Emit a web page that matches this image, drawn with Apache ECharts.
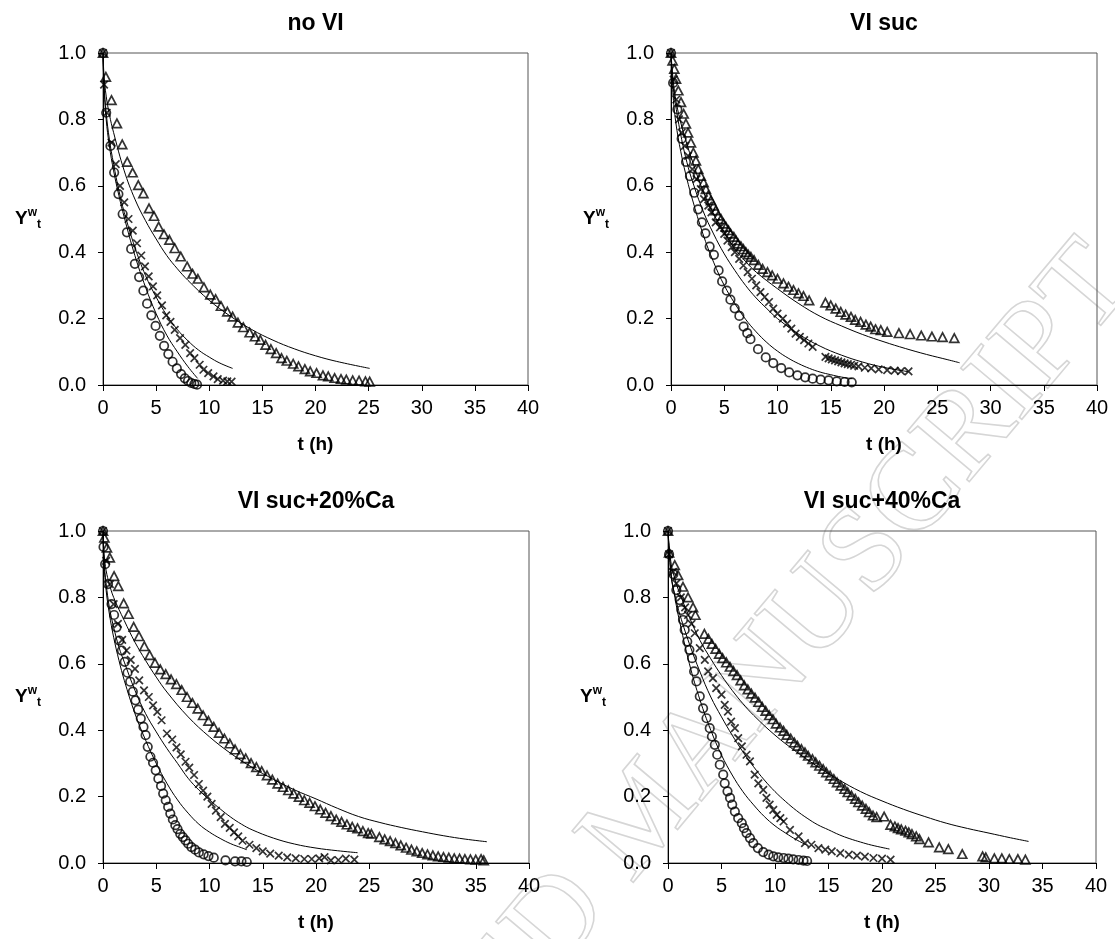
<!DOCTYPE html>
<html><head><meta charset="utf-8">
<script src="https://cdn.jsdelivr.net/npm/echarts@6/dist/echarts.min.js"></script>
<style>html,body{margin:0;padding:0;background:#fff}#c{width:1115px;height:939px}</style>
</head><body><div id="c"></div>
<script>
// ---------- text / ticks ----------
const panelTitles = ['no VI', 'VI suc', 'VI suc+20%Ca', 'VI suc+40%Ca'];
const tTicks = [0, 5, 10, 15, 20, 25, 30, 35, 40];
const yTicks = [0.0, 0.2, 0.4, 0.6, 0.8, 1.0];
const xName = 't (h)';
const watermarkText = 'ACCEPTED MANUSCRIPT';

// ---------- panel 1 : no VI ----------
const noVI_circle = [[0,1.0],[0.3,0.82],[0.7,0.72],[1.05,0.64],[1.45,0.575],[1.85,0.515],[2.25,0.46],[2.65,0.41],[3.0,0.365],[3.4,0.325],[3.8,0.284],[4.15,0.245],[4.55,0.21],[4.95,0.178],[5.35,0.148],[5.75,0.118],[6.15,0.093],[6.55,0.07],[6.95,0.05],[7.35,0.033],[7.7,0.02],[8.0,0.012],[8.3,0.006],[8.6,0.003],[8.85,0.001]];
const noVI_cross = [[0,1.0],[0.1,0.905],[0.35,0.82],[0.8,0.73],[1.2,0.665],[1.6,0.60],[2.0,0.55],[2.4,0.50],[2.8,0.465],[3.2,0.427],[3.6,0.39],[3.95,0.357],[4.3,0.327],[4.7,0.297],[5.1,0.27],[5.55,0.24],[5.95,0.21],[6.35,0.19],[6.75,0.166],[7.25,0.141],[7.75,0.121],[8.2,0.096],[8.6,0.081],[9.1,0.061],[9.45,0.046],[9.9,0.036],[10.4,0.026],[10.8,0.018],[11.3,0.013],[11.7,0.011],[12.1,0.01]];
const noVI_tri = [[0,1.0],[0.27,0.928],[0.8,0.858],[1.31,0.788],[1.81,0.725],[2.28,0.672],[2.79,0.64],[3.32,0.602],[3.8,0.577],[4.33,0.532],[4.8,0.509],[5.24,0.477],[5.74,0.454],[6.25,0.437],[6.75,0.412],[7.32,0.387],[7.92,0.357],[8.43,0.335],[8.93,0.32],[9.5,0.294],[10.1,0.272],[10.6,0.259],[11.1,0.238],[11.7,0.221],[12.2,0.206],[12.7,0.188],[13.2,0.174],[13.8,0.158],[14.3,0.146],[14.8,0.136],[15.3,0.121],[15.8,0.108],[16.3,0.096],[16.8,0.081],[17.3,0.073],[17.9,0.064],[18.4,0.056],[19.0,0.048],[19.5,0.041],[20.1,0.036],[20.7,0.029],[21.2,0.026],[21.8,0.021],[22.4,0.018],[22.9,0.016],[23.5,0.014],[24.1,0.013],[24.7,0.011],[25.1,0.01]];
const noVI_circle_fit = [[0,1],[0.1,0.9],[0.3,0.8],[0.6,0.72],[1,0.645],[1.5,0.57],[2,0.505],[3,0.39],[4,0.295],[5,0.215],[6,0.15],[7,0.1],[8,0.055],[8.9,0.02]];
const noVI_cross_fit = [[0,1],[0.1,0.9],[0.3,0.82],[0.6,0.74],[1,0.665],[1.5,0.585],[2,0.52],[3,0.415],[4,0.33],[5,0.265],[6,0.21],[7,0.167],[8,0.133],[9,0.105],[10,0.084],[11,0.066],[12.2,0.05]];
const noVI_tri_fit = [[0,1],[0.1,0.93],[0.3,0.87],[0.6,0.815],[1,0.76],[2,0.645],[3,0.56],[4,0.495],[5,0.44],[6,0.39],[7,0.35],[8,0.315],[10,0.255],[12,0.207],[14,0.167],[16,0.135],[18,0.109],[20,0.088],[22,0.071],[25.1,0.05]];

// ---------- panel 2 : VI suc ----------
const suc_circle = [[0,1.0],[0.2,0.91],[0.6,0.83],[1.0,0.742],[1.41,0.672],[1.78,0.629],[2.18,0.579],[2.55,0.529],[2.9,0.49],[3.23,0.457],[3.63,0.417],[4.03,0.392],[4.47,0.345],[4.8,0.312],[5.24,0.284],[5.58,0.257],[5.98,0.231],[6.42,0.208],[6.82,0.176],[7.16,0.156],[7.46,0.138],[8.17,0.108],[8.9,0.083],[9.6,0.066],[10.35,0.051],[11.1,0.038],[11.87,0.029],[12.6,0.023],[13.3,0.019],[14.05,0.016],[14.8,0.014],[15.56,0.011],[16.3,0.009],[16.97,0.008]];
const suc_cross = [[0,1.0],[0.25,0.92],[0.5,0.86],[0.75,0.80],[1.0,0.76],[1.3,0.72],[1.6,0.69],[2.0,0.65],[2.4,0.62],[2.8,0.59],[3.1,0.56],[3.5,0.54],[3.8,0.52],[4.2,0.49],[4.6,0.475],[5.0,0.455],[5.3,0.435],[5.7,0.415],[6.0,0.40],[6.4,0.38],[6.8,0.36],[7.2,0.34],[7.6,0.32],[8.0,0.30],[8.4,0.28],[8.8,0.265],[9.2,0.25],[9.6,0.23],[10.0,0.215],[10.5,0.20],[10.9,0.185],[11.3,0.17],[11.7,0.155],[12.1,0.145],[12.5,0.135],[12.9,0.125],[13.3,0.115],[14.5,0.085],[14.8,0.08],[15.1,0.077],[15.4,0.074],[15.7,0.071],[16.0,0.068],[16.3,0.065],[16.6,0.063],[16.9,0.061],[17.2,0.058],[17.6,0.056],[18.2,0.052],[18.8,0.05],[19.5,0.047],[20.3,0.045],[21.0,0.043],[21.6,0.042],[22.3,0.041]];
const suc_tri = [[0,1],[0.15,0.977],[0.31,0.952],[0.47,0.922],[0.69,0.887],[0.94,0.852],[1.19,0.817],[1.4,0.787],[1.6,0.76],[1.875,0.73],[2.1,0.70],[2.34,0.676],[2.56,0.65],[2.8,0.63],[3.06,0.61],[3.28,0.59],[3.5,0.571],[3.75,0.556],[4.0,0.54],[4.2,0.526],[4.44,0.51],[4.7,0.50],[4.94,0.486],[5.16,0.476],[5.4,0.466],[5.6,0.456],[5.9,0.446],[6.1,0.436],[6.3,0.426],[6.56,0.418],[6.8,0.409],[7.03,0.40],[7.25,0.393],[7.5,0.386],[7.8,0.376],[8.2,0.362],[8.6,0.35],[9.06,0.34],[9.5,0.33],[10.0,0.32],[10.56,0.306],[11.03,0.296],[11.5,0.286],[11.97,0.276],[12.44,0.268],[12.97,0.255],[14.5,0.248],[15.0,0.24],[15.47,0.23],[15.94,0.22],[16.4,0.212],[16.9,0.205],[17.3,0.196],[17.8,0.19],[18.3,0.182],[18.75,0.176],[19.2,0.168],[19.7,0.165],[20.3,0.16],[21.4,0.156],[22.45,0.153],[23.5,0.149],[24.5,0.146],[25.5,0.144],[26.6,0.141]];
const suc_circle_fit = [[0,1],[0.2,0.87],[0.5,0.78],[1,0.69],[1.5,0.62],[2,0.56],[3,0.455],[4,0.37],[5,0.3],[6,0.245],[7,0.198],[8,0.16],[9,0.128],[10,0.102],[11,0.081],[12,0.064],[13,0.05],[14,0.039],[15,0.031],[16,0.024],[17,0.019]];
const suc_cross_fit = [[0,1],[0.2,0.9],[0.5,0.83],[1,0.74],[1.5,0.67],[2,0.615],[3,0.525],[4,0.455],[5,0.395],[6,0.345],[7,0.3],[8,0.262],[9,0.23],[10,0.2],[12,0.153],[14,0.117],[16,0.09],[18,0.069],[20,0.053],[22.3,0.04]];
const suc_tri_fit = [[0,1],[0.2,0.92],[0.5,0.85],[1,0.78],[1.5,0.725],[2,0.675],[3,0.585],[4,0.515],[5,0.46],[6,0.41],[7,0.372],[8,0.34],[10,0.29],[12,0.245],[14,0.207],[16,0.178],[18,0.152],[20,0.13],[22,0.11],[24,0.092],[26,0.076],[27.1,0.067]];

// ---------- panel 3 : VI suc+20%Ca ----------
const ca20_circle = [[0,1],[0.05,0.952],[0.2,0.9],[0.47,0.84],[0.8,0.78],[1.04,0.747],[1.27,0.71],[1.54,0.67],[1.77,0.64],[2.04,0.606],[2.3,0.573],[2.55,0.546],[2.8,0.516],[3.05,0.49],[3.3,0.462],[3.55,0.435],[3.8,0.41],[4.0,0.385],[4.2,0.35],[4.45,0.32],[4.7,0.302],[4.95,0.279],[5.2,0.254],[5.45,0.232],[5.65,0.209],[5.89,0.189],[6.12,0.169],[6.32,0.149],[6.56,0.131],[6.79,0.114],[7.0,0.102],[7.25,0.088],[7.5,0.078],[7.75,0.068],[8.0,0.058],[8.3,0.048],[8.65,0.04],[9.0,0.032],[9.45,0.026],[9.9,0.021],[10.4,0.016],[11.5,0.008],[12.4,0.005],[13.0,0.005],[13.5,0.003]];
const ca20_cross = [[0,1],[0.3,0.91],[0.65,0.84],[1.0,0.78],[1.4,0.72],[1.8,0.672],[2.2,0.64],[2.6,0.612],[3.0,0.585],[3.4,0.55],[3.85,0.52],[4.3,0.5],[4.7,0.475],[5.1,0.455],[5.5,0.43],[6.0,0.39],[6.5,0.372],[6.9,0.348],[7.3,0.327],[7.75,0.305],[8.1,0.287],[8.55,0.265],[9.0,0.238],[9.4,0.218],[9.8,0.2],[10.2,0.178],[10.6,0.158],[11.05,0.138],[11.45,0.118],[11.9,0.106],[12.3,0.092],[12.7,0.08],[13.1,0.067],[13.75,0.055],[14.4,0.045],[15.0,0.035],[15.7,0.028],[16.5,0.022],[17.3,0.017],[18.1,0.014],[18.9,0.012],[19.6,0.012],[20.3,0.014],[20.8,0.018],[21.4,0.008],[22.1,0.009],[22.8,0.013],[23.6,0.01]];
const ca20_tri = [[0,1],[0.13,0.98],[0.37,0.95],[0.64,0.92],[1.04,0.864],[1.44,0.834],[1.94,0.782],[2.4,0.75],[2.88,0.711],[3.38,0.683],[3.88,0.653],[4.38,0.626],[4.88,0.603],[5.38,0.583],[5.89,0.569],[6.39,0.553],[6.89,0.539],[7.39,0.521],[7.89,0.5],[8.39,0.482],[8.9,0.465],[9.4,0.445],[9.9,0.428],[10.4,0.41],[10.9,0.392],[11.4,0.375],[11.9,0.36],[12.4,0.342],[12.9,0.328],[13.4,0.315],[13.9,0.301],[14.4,0.289],[14.9,0.277],[15.4,0.264],[15.9,0.251],[16.4,0.239],[16.9,0.229],[17.4,0.219],[17.9,0.209],[18.4,0.199],[18.9,0.189],[19.4,0.181],[19.9,0.171],[20.4,0.161],[20.9,0.151],[21.4,0.141],[21.9,0.131],[22.4,0.124],[22.9,0.116],[23.4,0.109],[23.9,0.104],[24.4,0.096],[24.9,0.09],[25.2,0.088],[25.95,0.078],[26.45,0.071],[26.96,0.066],[27.46,0.06],[27.96,0.053],[28.46,0.046],[28.96,0.04],[29.46,0.035],[29.97,0.03],[30.47,0.026],[30.97,0.023],[31.47,0.02],[31.97,0.018],[32.47,0.016],[32.98,0.014],[33.48,0.013],[33.98,0.012],[34.5,0.011],[35.0,0.01],[35.5,0.012],[35.75,0.008]];
const ca20_circle_fit = [[0,1],[0.1,0.9],[0.3,0.82],[0.6,0.75],[1,0.68],[1.5,0.61],[2,0.55],[3,0.45],[4,0.37],[5,0.3],[6,0.24],[7,0.19],[8,0.15],[9,0.117],[10,0.093],[11,0.074],[12,0.058],[13,0.046],[13.5,0.04]];
const ca20_cross_fit = [[0,1],[0.1,0.91],[0.3,0.84],[0.6,0.77],[1,0.71],[1.5,0.65],[2,0.605],[3,0.52],[4,0.45],[5,0.395],[6,0.345],[7,0.3],[8,0.255],[9,0.22],[10,0.19],[11,0.163],[12,0.138],[13,0.117],[14,0.1],[16,0.075],[18,0.057],[20,0.045],[22,0.037],[23.9,0.031]];
const ca20_tri_fit = [[0,1],[0.1,0.93],[0.3,0.88],[0.6,0.84],[1,0.8],[2,0.73],[3,0.665],[4,0.61],[5,0.56],[6,0.515],[8,0.44],[10,0.38],[12,0.33],[14,0.288],[16,0.252],[18,0.22],[20,0.193],[22,0.165],[24,0.14],[26,0.122],[28,0.107],[30,0.094],[32,0.082],[34,0.072],[36.05,0.064]];

// ---------- panel 4 : VI suc+40%Ca ----------
const ca40_circle = [[0,1],[0.1,0.93],[0.5,0.87],[0.78,0.822],[1.1,0.792],[1.25,0.762],[1.4,0.732],[1.56,0.702],[1.8,0.667],[2.0,0.642],[2.25,0.617],[2.44,0.577],[2.66,0.547],[2.97,0.502],[3.28,0.466],[3.6,0.436],[3.9,0.406],[4.1,0.381],[4.375,0.356],[4.6,0.326],[4.84,0.296],[5.16,0.266],[5.3,0.24],[5.56,0.216],[5.8,0.196],[6.0,0.176],[6.25,0.155],[6.56,0.135],[6.9,0.12],[7.1,0.105],[7.34,0.09],[7.66,0.075],[7.97,0.06],[8.4,0.045],[8.9,0.033],[9.4,0.025],[9.84,0.02],[10.3,0.017],[10.8,0.015],[11.25,0.013],[11.7,0.011],[12.2,0.009],[12.66,0.007],[13.0,0.006]];
const ca40_cross = [[0,1],[0.1,0.93],[0.47,0.877],[0.78,0.842],[1.2,0.8],[1.6,0.77],[1.875,0.747],[2.2,0.72],[2.5,0.692],[2.97,0.647],[3.44,0.612],[3.75,0.577],[4.2,0.557],[4.5,0.527],[5.0,0.507],[5.3,0.476],[5.6,0.456],[5.9,0.426],[6.25,0.406],[6.56,0.376],[6.9,0.351],[7.34,0.326],[7.66,0.306],[8.1,0.266],[8.44,0.24],[8.9,0.22],[9.2,0.196],[9.5,0.176],[9.84,0.16],[10.16,0.145],[10.5,0.135],[10.8,0.125],[11.4,0.1],[12.2,0.08],[12.8,0.06],[13.4,0.055],[14.06,0.045],[14.7,0.04],[15.3,0.035],[16.1,0.03],[16.9,0.025],[17.66,0.022],[18.4,0.019],[19.2,0.015],[20.0,0.013],[20.8,0.01]];
const ca40_tri = [[0,1],[0.1,0.935],[0.63,0.897],[0.94,0.867],[1.4,0.832],[1.875,0.80],[2.34,0.77],[2.56,0.747],[3.4,0.69],[3.78,0.675],[4.1,0.66],[4.45,0.645],[4.78,0.63],[5.1,0.617],[5.45,0.604],[5.79,0.591],[6.12,0.578],[6.45,0.566],[6.79,0.55],[7.12,0.535],[7.46,0.523],[7.79,0.51],[8.13,0.498],[8.46,0.485],[8.8,0.47],[9.13,0.458],[9.46,0.445],[9.8,0.433],[10.1,0.42],[10.47,0.408],[10.8,0.398],[11.1,0.386],[11.47,0.375],[11.8,0.363],[12.1,0.353],[12.47,0.343],[12.8,0.333],[13.1,0.323],[13.5,0.313],[13.8,0.303],[14.15,0.293],[14.5,0.283],[14.8,0.273],[15.15,0.263],[15.5,0.253],[15.8,0.243],[16.15,0.233],[16.5,0.223],[16.8,0.213],[17.15,0.203],[17.5,0.193],[17.8,0.183],[18.15,0.173],[18.5,0.163],[18.8,0.153],[19.16,0.143],[19.5,0.138],[20.2,0.14],[20.8,0.115],[21.2,0.11],[21.5,0.105],[21.8,0.101],[22.2,0.097],[22.5,0.092],[22.8,0.087],[23.2,0.08],[23.5,0.072],[24.35,0.062],[25.35,0.047],[26.2,0.042],[27.5,0.027],[29.4,0.02],[29.7,0.017],[30.5,0.014],[31.2,0.014],[31.9,0.012],[32.7,0.012],[33.4,0.01]];
const ca40_circle_fit = [[0,1],[0.3,0.87],[0.7,0.79],[1,0.74],[2,0.6],[3,0.49],[4,0.4],[5,0.325],[6,0.265],[7,0.215],[8,0.175],[9,0.14],[10,0.112],[11,0.09],[12,0.07],[12.9,0.055]];
const ca40_cross_fit = [[0,1],[0.3,0.86],[0.7,0.8],[1,0.76],[2,0.66],[3,0.575],[4,0.5],[5,0.44],[6,0.385],[7,0.335],[8,0.29],[9,0.25],[10,0.215],[11,0.185],[12,0.158],[13,0.135],[14,0.115],[15,0.1],[16,0.085],[17,0.073],[18,0.063],[19,0.054],[20.7,0.042]];
const ca40_tri_fit = [[0,1],[0.3,0.9],[0.7,0.85],[1,0.82],[2,0.74],[3,0.67],[4,0.615],[5,0.565],[6,0.52],[7,0.48],[8,0.445],[10,0.385],[12,0.335],[14,0.29],[16,0.25],[18,0.215],[20,0.187],[22,0.162],[24,0.14],[26,0.12],[28,0.104],[30,0.09],[32,0.076],[33.7,0.065]];

// ---------- build ----------
const FONT = '"Liberation Sans", Arial, Helvetica, sans-serif';
const grids = [
  {left: 103, top: 53, width: 425, height: 332},
  {left: 671, top: 53, width: 426, height: 332},
  {left: 103, top: 531, width: 426, height: 332},
  {left: 668, top: 531, width: 428, height: 332}
];
const panels = [
  {c: noVI_circle, x: noVI_cross, t: noVI_tri, cf: noVI_circle_fit, xf: noVI_cross_fit, tf: noVI_tri_fit},
  {c: suc_circle, x: suc_cross, t: suc_tri, cf: suc_circle_fit, xf: suc_cross_fit, tf: suc_tri_fit},
  {c: ca20_circle, x: ca20_cross, t: ca20_tri, cf: ca20_circle_fit, xf: ca20_cross_fit, tf: ca20_tri_fit},
  {c: ca40_circle, x: ca40_cross, t: ca40_tri, cf: ca40_circle_fit, xf: ca40_cross_fit, tf: ca40_tri_fit}
];

const option = {
  animation: false,
  backgroundColor: '#fff',
  textStyle: {fontFamily: FONT},
  title: [], grid: [], xAxis: [], yAxis: [], series: [],
  graphic: [{
    type: 'text', silent: true, z: -10,
    x: 1112, y: 262, rotation: 50 * Math.PI / 180,
    style: {
      text: watermarkText, font: '122px "Liberation Serif", "Times New Roman", serif',
      fill: 'transparent', stroke: '#d6d6d6', lineWidth: 1.6,
      textAlign: 'right', textVerticalAlign: 'middle'
    }
  }]
};

const markerStyle = {color: 'transparent', borderColor: '#000', borderWidth: 1.7};
const crossPath = 'path://M0,0L10,10M10,0L0,10';

grids.forEach((g, i) => {
  option.grid.push(Object.assign({show: true, borderColor: '#555', borderWidth: 1, backgroundColor: 'transparent'}, g));
  option.title.push({
    text: panelTitles[i],
    left: g.left + g.width / 2,
    top: g.top - 41,
    textAlign: 'center',
    padding: 0,
    textStyle: {fontSize: 23, fontWeight: 'bold', color: '#000', fontFamily: FONT}
  });
  option.xAxis.push({
    type: 'value', gridIndex: i,
    min: tTicks[0], max: tTicks[tTicks.length - 1], interval: tTicks[1] - tTicks[0],
    name: xName, nameLocation: 'middle', nameGap: 50,
    nameTextStyle: {fontSize: 19, fontWeight: 'bold', color: '#000', fontFamily: FONT},
    axisLine: {show: true, onZero: false, lineStyle: {color: '#000', width: 1}},
    axisTick: {show: true, inside: false, length: 6, lineStyle: {color: '#000'}},
    axisLabel: {fontSize: 20, color: '#000', margin: 13, fontFamily: FONT},
    splitLine: {show: false}
  });
  option.yAxis.push({
    type: 'value', gridIndex: i,
    min: yTicks[0], max: yTicks[yTicks.length - 1], interval: yTicks[1] - yTicks[0],
    name: '{y|Y}{w|w}{t|t}', nameLocation: 'middle', nameRotate: 0, nameGap: 62,
    nameTextStyle: {
      color: '#000', fontFamily: FONT,
      rich: {
        y: {fontSize: 19, fontWeight: 'bold', lineHeight: 24, color: '#000', fontFamily: FONT},
        w: {fontSize: 12, fontWeight: 'bold', lineHeight: 12, verticalAlign: 'top', color: '#000', fontFamily: FONT},
        t: {fontSize: 12, fontWeight: 'bold', lineHeight: 12, verticalAlign: 'bottom', color: '#000', fontFamily: FONT}
      }
    },
    axisLine: {show: true, onZero: false, lineStyle: {color: '#000', width: 1}},
    axisTick: {show: true, inside: false, length: 5, lineStyle: {color: '#000'}},
    axisLabel: {fontSize: 20, color: '#000', margin: 17, fontFamily: FONT, formatter: v => v.toFixed(1)},
    splitLine: {show: false}
  });
  const p = panels[i];
  [p.cf, p.xf, p.tf].forEach(d => option.series.push({
    type: 'line', xAxisIndex: i, yAxisIndex: i, data: d, smooth: 0.4,
    showSymbol: false, symbol: 'none', lineStyle: {color: '#000', width: 1}, z: 2, silent: true
  }));
  option.series.push({type: 'scatter', xAxisIndex: i, yAxisIndex: i, data: p.c, symbol: 'circle', symbolSize: 8.5, itemStyle: markerStyle, z: 3});
  option.series.push({type: 'scatter', xAxisIndex: i, yAxisIndex: i, data: p.x, symbol: crossPath, symbolSize: 7.5, itemStyle: markerStyle, z: 3});
  option.series.push({type: 'scatter', xAxisIndex: i, yAxisIndex: i, data: p.t, symbol: 'triangle', symbolSize: [9, 8.5], itemStyle: markerStyle, z: 3});
});

const chart = echarts.init(document.getElementById('c'), null, {renderer: 'canvas'});
chart.setOption(option);
</script>
</body></html>
